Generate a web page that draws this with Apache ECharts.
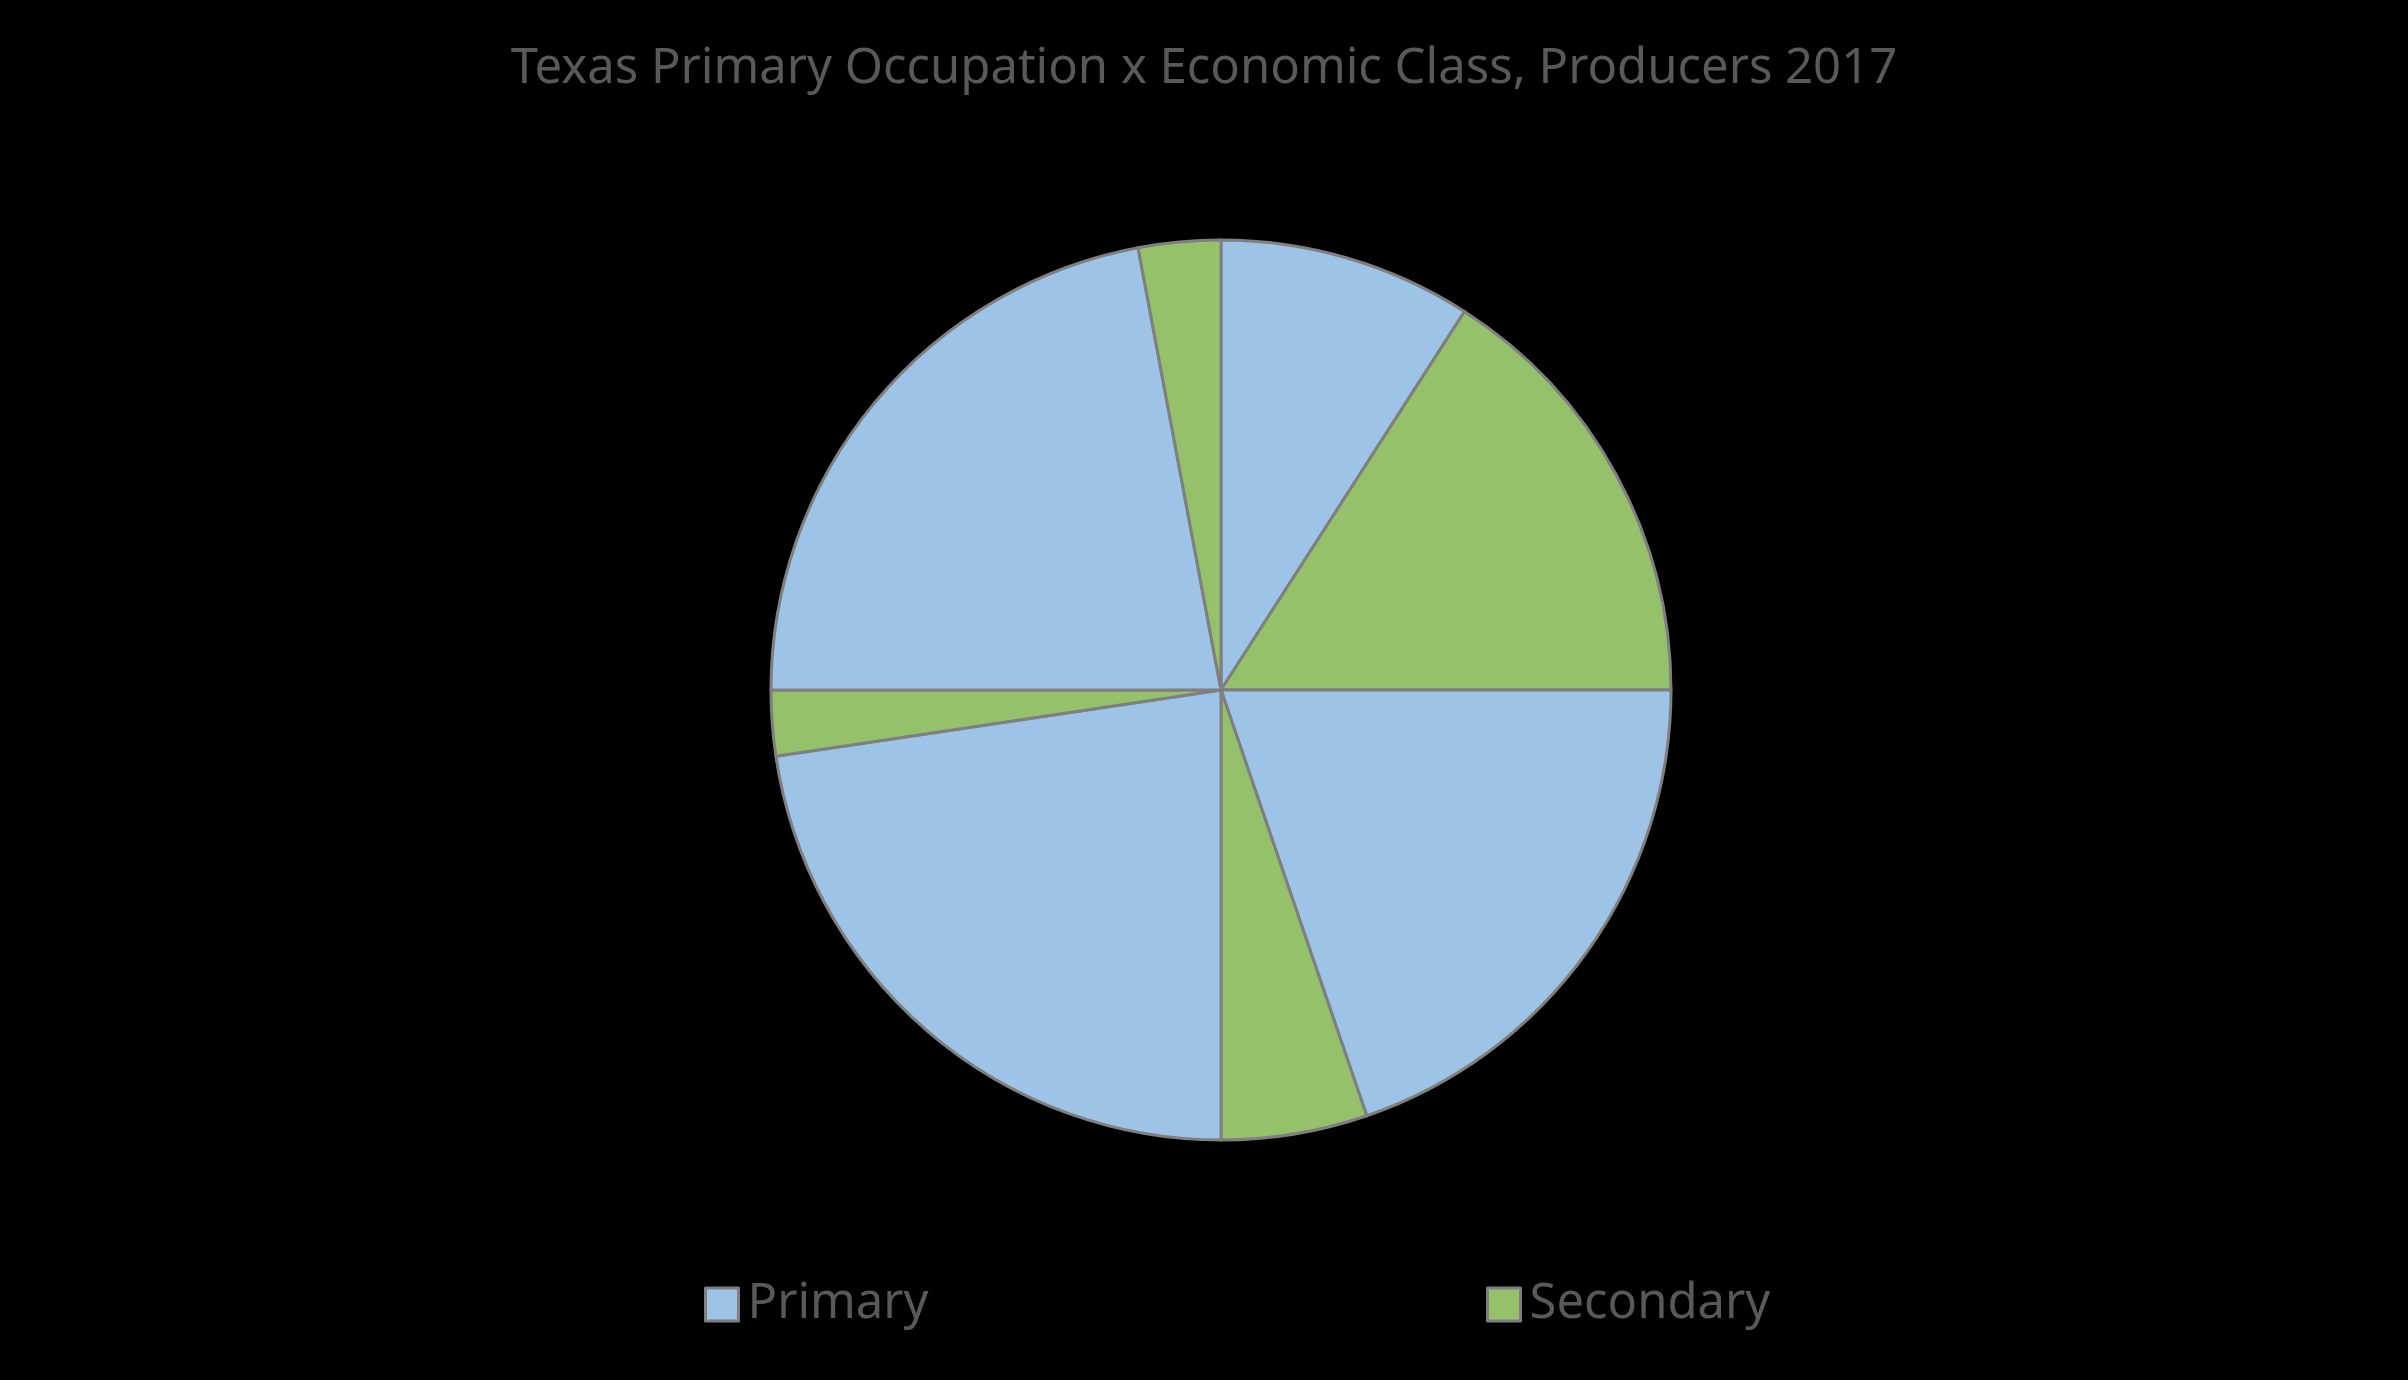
<!DOCTYPE html>
<html>
<head>
<meta charset="utf-8">
<script src="https://cdn.jsdelivr.net/npm/echarts@6/dist/echarts.min.js"></script>
<style>
html,body{margin:0;padding:0;background:#000;}
#chart{width:2408px;height:1380px;}
</style>
</head>
<body>
<div id="chart"></div>
<script>
// Share (%) of producers within each economic class quadrant
const classes = ['Class 1', 'Class 2', 'Class 3', 'Class 4'];
const primaryValues = [36.4, 79.0, 90.6, 88.2];
const secondaryValues = [63.6, 21.0, 9.4, 11.8];
const seriesNames = ['Primary', 'Secondary'];
const titleText = 'Texas Primary Occupation x Economic Class, Producers 2017';

const colors = { Primary: '#9dc3e6', Secondary: '#94c16a' };

const pieData = [];
classes.forEach((c, i) => {
  pieData.push({ name: seriesNames[0], value: primaryValues[i], cls: c, itemStyle: { color: colors.Primary } });
  pieData.push({ name: seriesNames[1], value: secondaryValues[i], cls: c, itemStyle: { color: colors.Secondary } });
});

const chart = echarts.init(document.getElementById('chart'));
const legendText = { color: '#595959', fontSize: 49, fontFamily: 'Noto Sans', padding: [0, 0, 0, 4] };
const legendCommon = {
  top: 1275,
  icon: 'rect',
  itemWidth: 33, itemHeight: 33,
  itemStyle: { borderColor: '#7f7f7f', borderWidth: 3 },
  textStyle: legendText
};
chart.setOption({
  backgroundColor: '#000',
  animation: false,
  title: {
    text: titleText,
    left: 'center',
    top: 40,
    textStyle: { color: '#595959', fontSize: 49, fontWeight: 'normal', fontFamily: 'Noto Sans' }
  },
  legend: [
    Object.assign({ data: [seriesNames[0]], left: 699 }, legendCommon),
    Object.assign({ data: [seriesNames[1]], left: 1481 }, legendCommon)
  ],
  series: [{
    type: 'pie',
    center: [1221, 690],
    radius: [0, 450],
    startAngle: 90,
    clockwise: true,
    label: { show: false },
    labelLine: { show: false },
    itemStyle: { borderColor: '#7f7f7f', borderWidth: 3 },
    emphasis: { disabled: true },
    data: pieData
  }]
});
</script>
</body>
</html>
